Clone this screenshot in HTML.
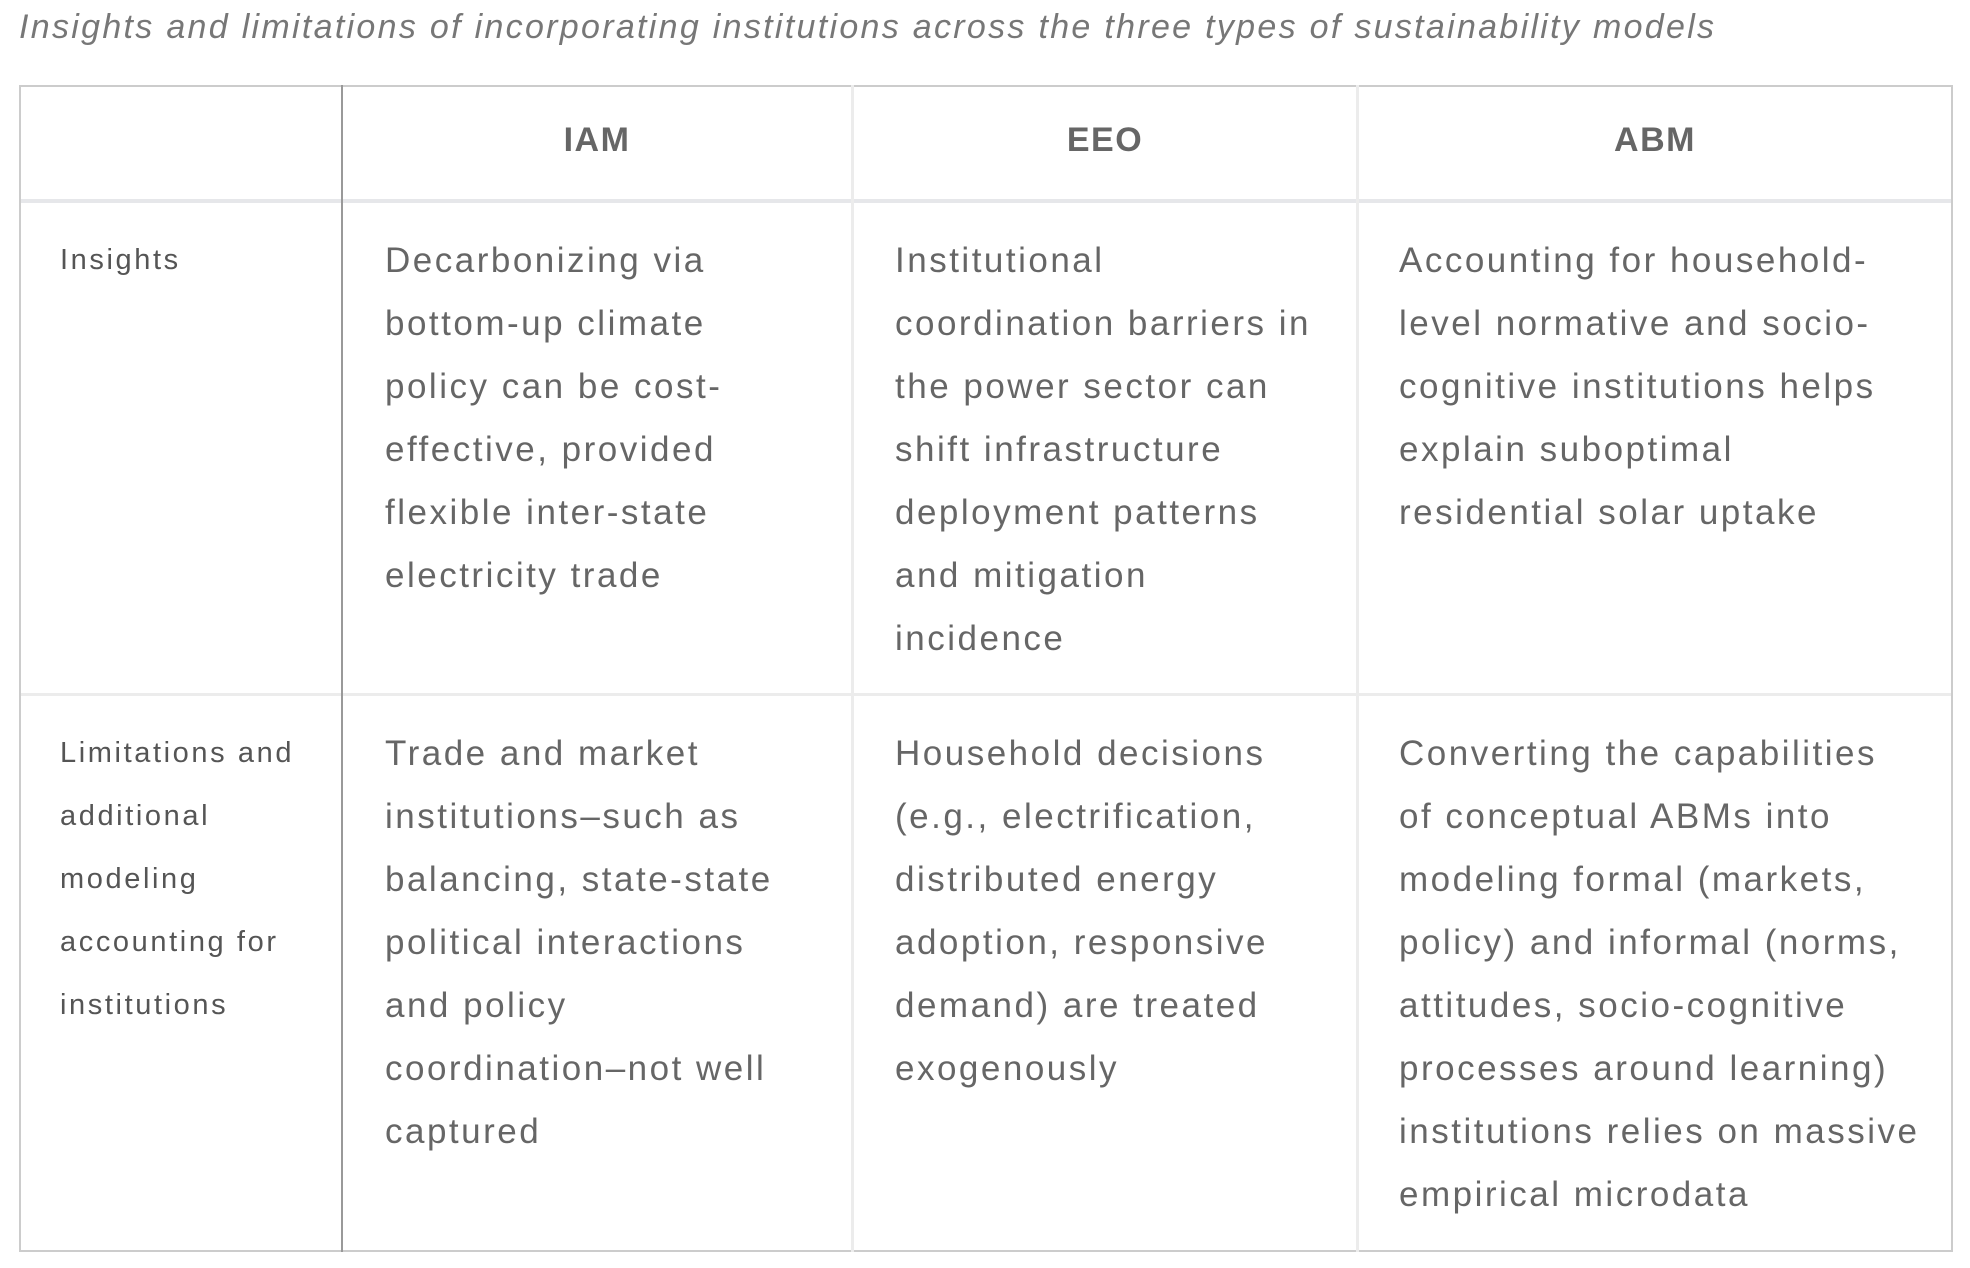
<!DOCTYPE html>
<html><head><meta charset="utf-8"><style>
body{margin:0;width:1970px;height:1268px;background:#fff;position:relative;overflow:hidden;font-family:"Liberation Sans",sans-serif;color:#666}
.t{position:absolute;white-space:pre;}
.title{left:19px;top:8px;font-size:34px;font-style:italic;color:#777;letter-spacing:2.3px}
.tbl{position:absolute;left:19px;top:85px;width:1934px;height:1167px;border:2px solid #ccc;box-sizing:border-box}
.v{position:absolute;top:85px;height:1167px;width:3px;background:#ececec}
.h{position:absolute;height:4px;background:#e6e7ea}
.hd{font-weight:bold;font-size:34px;color:#666;top:121px;text-align:center;width:400px;letter-spacing:1.5px}
.lab{font-size:29px;line-height:63px;left:60px;color:#555;letter-spacing:2.6px}
.body{font-size:35px;line-height:63px;letter-spacing:2.5px;color:#666}
</style></head><body>
<div class="t title">Insights and limitations of incorporating institutions across the three types of sustainability models</div>
<div class="tbl"></div>
<div class="h" style="left:21px;top:199px;width:1930px"></div>
<div class="h" style="left:21px;top:693px;width:1930px;height:3px;background:#ececec"></div>
<div class="v" style="left:341px;background:#999;width:2px"></div>
<div class="v" style="left:851px"></div>
<div class="v" style="left:1356px"></div>
<div class="t hd" style="left:397px">IAM</div>
<div class="t hd" style="left:905px">EEO</div>
<div class="t hd" style="left:1455px">ABM</div>
<div class="t lab" style="top:229px">Insights</div>
<div class="t lab" style="top:722px">Limitations and
additional
modeling
accounting for
institutions</div>
<div class="t body" style="left:385px;top:229px">Decarbonizing via
bottom-up climate
policy can be cost-
effective, provided
flexible inter-state
electricity trade</div>
<div class="t body" style="left:895px;top:229px">Institutional
coordination barriers in
the power sector can
shift infrastructure
deployment patterns
and mitigation
incidence</div>
<div class="t body" style="left:1399px;top:229px">Accounting for household-
level normative and socio-
cognitive institutions helps
explain suboptimal
residential solar uptake</div>
<div class="t body" style="left:385px;top:722px">Trade and market
institutions–such as
balancing, state-state
political interactions
and policy
coordination–not well
captured</div>
<div class="t body" style="left:895px;top:722px">Household decisions
(e.g., electrification,
distributed energy
adoption, responsive
demand) are treated
exogenously</div>
<div class="t body" style="left:1399px;top:722px">Converting the capabilities
of conceptual ABMs into
modeling formal (markets,
policy) and informal (norms,
attitudes, socio-cognitive
processes around learning)
institutions relies on massive
empirical microdata</div>
</body></html>
